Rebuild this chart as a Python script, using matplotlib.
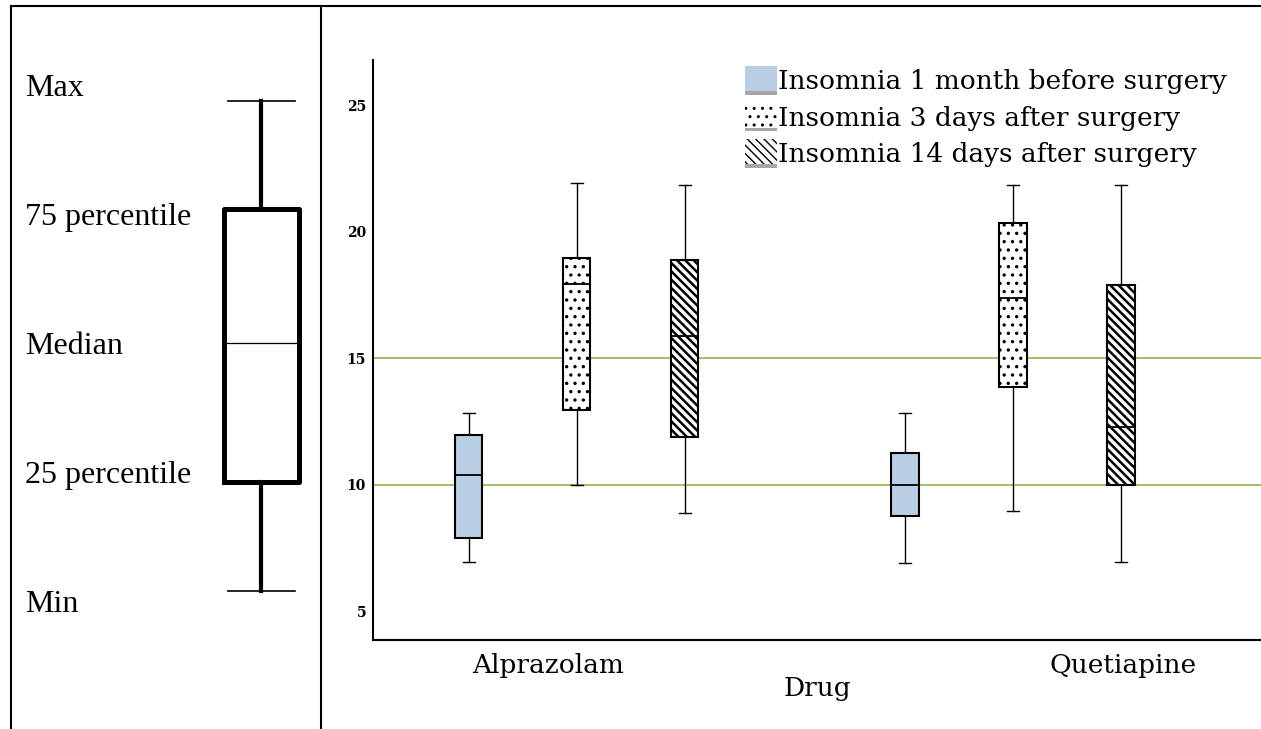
import matplotlib.pyplot as plt
from matplotlib.lines import Line2D
from matplotlib.patches import Patch, Rectangle
from matplotlib.legend_handler import HandlerBase

# insomnia scores per drug (rows) and period (columns)
drugs = ["Alprazolam", "Quetiapine"]
periods = ["Insomnia 1 month before surgery",
           "Insomnia 3 days after surgery",
           "Insomnia 14 days after surgery"]
whislo = [[6.95, 10.0, 8.9], [6.9, 8.95, 6.95]]
q1 = [[7.9, 12.95, 11.9], [8.75, 13.85, 10.0]]
med = [[10.4, 17.95, 15.9], [10.0, 17.4, 12.3]]
q3 = [[11.95, 18.95, 18.9], [11.25, 20.35, 17.9]]
whishi = [[12.85, 21.95, 21.85], [12.85, 21.85, 21.85]]
yticks = [5, 10, 15, 20, 25]
ref_levels = [10, 15]

# schematic key on the left (arbitrary units)
key_labels = ["Max", "75 percentile", "Median", "25 percentile", "Min"]
key_values = [6.28, 5.20, 3.86, 2.47, 1.38]
key_text_y = [6.41, 5.12, 3.82, 2.54, 1.24]

period_colors = ["#b9cde5", "white", "white"]
period_hatches = [None, "..", "\\\\\\\\"]
hatch_widths = [1.0, 1.2, 1.8]

serif = ["DejaVu Serif"]


class BarPatchHandler(HandlerBase):
    # legend swatch with a grey strip underneath, like the original
    def create_artists(self, legend, orig_handle, xdescent, ydescent,
                       width, height, fontsize, trans):
        bar_h = height * 0.12
        sw = Rectangle((-xdescent, -ydescent + bar_h), width, height - bar_h,
                       facecolor=orig_handle.get_facecolor(), edgecolor="black",
                       lw=0, hatch=orig_handle.get_hatch(), transform=trans)
        bar = Rectangle((-xdescent, -ydescent), width, bar_h,
                        facecolor="#a6a6a6", edgecolor="none", transform=trans)
        return [sw, bar]


fig = plt.figure(figsize=(12.61, 7.29), dpi=100)

# table frame
fig.add_artist(Line2D([11 / 1261, 1], [1 - 6 / 729] * 2, transform=fig.transFigure, color="black", lw=1.5))
fig.add_artist(Line2D([11 / 1261] * 2, [0, 1 - 6 / 729], transform=fig.transFigure, color="black", lw=1.5))
fig.add_artist(Line2D([321 / 1261] * 2, [0, 1 - 6 / 729], transform=fig.transFigure, color="black", lw=1.5))

# ---- left: key
ax_key = fig.add_axes([0, 0, 321 / 1261, 1])
ax_key.set_xlim(0, 3.21)
ax_key.set_ylim(0, 7.29)
ax_key.axis("off")
key_stats = [dict(whishi=key_values[0], q3=key_values[1], med=key_values[2],
                  q1=key_values[3], whislo=key_values[4], fliers=[])]
ax_key.bxp(key_stats, positions=[2.61], widths=0.75, capwidths=0.67, showfliers=False,
           boxprops=dict(color="black", lw=3.6),
           whiskerprops=dict(color="black", lw=3.0),
           capprops=dict(color="black", lw=1.2),
           medianprops=dict(color="black", lw=0.9))
for label, ty in zip(key_labels, key_text_y):
    ax_key.text(0.25, ty, label, ha="left", va="center", fontsize=23, family="Liberation Serif")

# ---- right: box plots
ax = fig.add_axes([373 / 1261, 89 / 729, 888 / 1261, 580 / 729])
offsets = [-0.2475, 0.0, 0.2475]
for j, period in enumerate(periods):
    stats = []
    pos = []
    for i in range(len(drugs)):
        stats.append(dict(whislo=whislo[i][j], q1=q1[i][j], med=med[i][j],
                          q3=q3[i][j], whishi=whishi[i][j], fliers=[]))
        pos.append(i + offsets[j])
    with plt.rc_context({"hatch.linewidth": hatch_widths[j]}):
        bp = ax.bxp(stats, positions=pos, widths=0.0626, capwidths=0.027, showfliers=False,
                    patch_artist=True, manage_ticks=False,
                    boxprops=dict(edgecolor="black", lw=1.5),
                    whiskerprops=dict(color="black", lw=1.0),
                    capprops=dict(color="black", lw=1.0),
                    medianprops=dict(color="black", lw=1.3))
    for box in bp["boxes"]:
        box.set_facecolor(period_colors[j])
        if period_hatches[j]:
            box.set_hatch(period_hatches[j])
        if hasattr(box, "set_hatch_linewidth"):
            box.set_hatch_linewidth(hatch_widths[j])
        box.set_zorder(3)
    for m in bp["medians"]:
        m.set_zorder(4)

for lvl in ref_levels:
    ax.axhline(lvl, color="#9bbb59", lw=1.3, zorder=1)

ax.set_xlim(-0.467, 1.568)
ax.set_ylim(3.86, 26.8)
ax.set_yticks(yticks)
ax.set_yticklabels([str(t) for t in yticks], fontweight="bold", fontsize=10, family=serif)
ax.set_xticks([-0.066, 1.252])
ax.set_xticklabels(drugs, fontsize=19, family=serif)
ax.tick_params(length=0)
ax.tick_params(axis="x", pad=9)
ax.tick_params(axis="y", pad=5)
for side in ["top", "right"]:
    ax.spines[side].set_visible(False)
for side in ["left", "bottom"]:
    ax.spines[side].set_linewidth(1.5)
ax.set_xlabel("Drug", fontsize=19, family=serif)
ax.xaxis.set_label_coords(0.501, -0.062)

handles = []
for j, period in enumerate(periods):
    handles.append(Patch(facecolor=period_colors[j], edgecolor="black", lw=0,
                         hatch=period_hatches[j], label=period))
ax.legend(handles=handles, loc="upper left", bbox_to_anchor=(0.419, 0.99), frameon=False,
          prop=dict(family=serif, size=19), handlelength=1.2, handleheight=1.3,
          handletextpad=0.05, labelspacing=0.3, borderpad=0, borderaxespad=0,
          handler_map={Patch: BarPatchHandler()})

fig.savefig("out.png", dpi=100)
